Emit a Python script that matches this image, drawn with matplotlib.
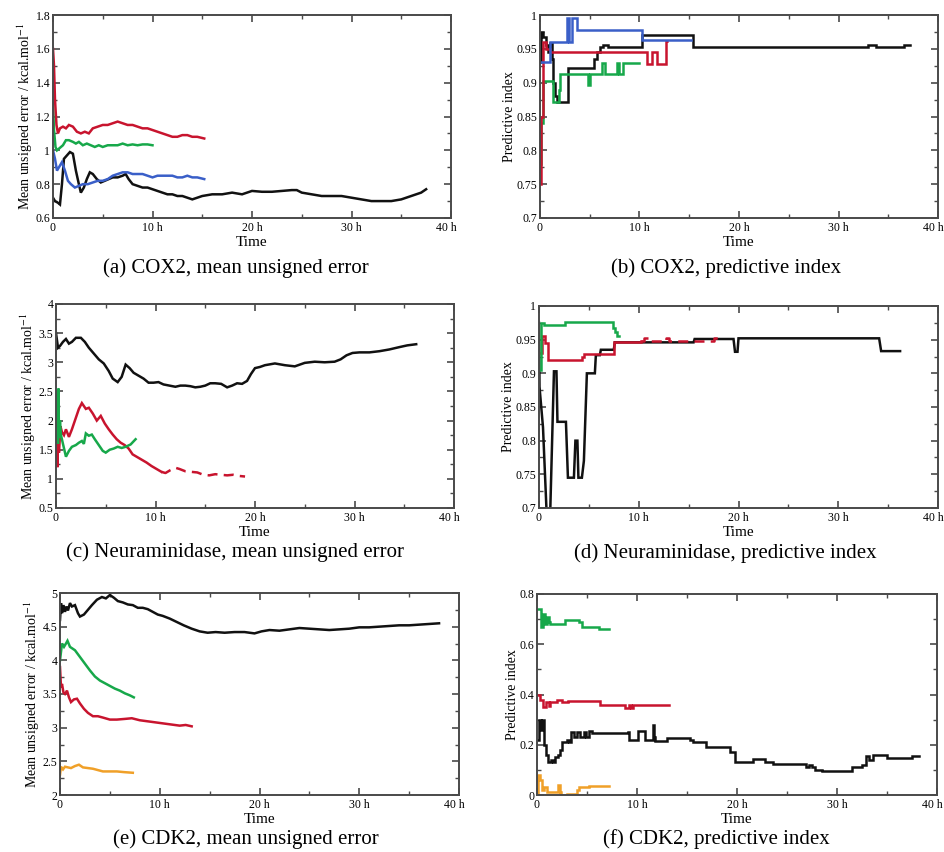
import matplotlib
matplotlib.use("Agg")
import matplotlib.pyplot as plt
from matplotlib.ticker import MultipleLocator, FuncFormatter
from matplotlib.transforms import ScaledTranslation

plt.rcParams["font.family"] = ["Liberation Serif", "DejaVu Serif"]
plt.rcParams["mathtext.fontset"] = "stix"

BLACK = "#111111"
RED = "#c8142e"
GREEN = "#17a84a"
BLUE = "#3a5fc8"
ORANGE = "#f0a028"
FRAME = "#4a4a4a"

# (a) COX2, mean unsigned error
a_red_t = [0, 0.1, 0.2, 0.35, 0.5, 0.7, 1.0, 1.3, 1.6, 2.0, 2.4, 2.8, 3.2, 3.6, 4.0, 4.5, 5.0, 5.5, 6.0, 6.5,
           7.0, 7.5, 8.0, 8.5, 9.0, 9.5, 10.0, 10.5, 11.0, 11.5, 12.0, 12.5, 13.0, 13.5, 14.0, 14.5, 15.2]
a_red = [1.60, 1.50, 1.30, 1.15, 1.10, 1.13, 1.14, 1.13, 1.15, 1.14, 1.11, 1.10, 1.11, 1.10, 1.13, 1.14, 1.15, 1.15, 1.16, 1.17,
         1.16, 1.15, 1.15, 1.14, 1.13, 1.13, 1.12, 1.11, 1.10, 1.09, 1.08, 1.08, 1.09, 1.09, 1.08, 1.08, 1.07]
a_green_t = [0, 0.1, 0.25, 0.4, 0.6, 0.8, 1.0, 1.3, 1.6, 2.0, 2.3, 2.6, 3.0, 3.4, 3.8, 4.2, 4.6, 5.0, 5.5, 6.0,
             6.5, 7.0, 7.5, 8.0, 8.5, 9.0, 9.5, 10.0]
a_green = [1.28, 1.12, 1.02, 1.00, 1.01, 1.02, 1.03, 1.06, 1.06, 1.05, 1.04, 1.05, 1.03, 1.04, 1.03, 1.02, 1.03, 1.02, 1.03, 1.03,
           1.03, 1.04, 1.03, 1.035, 1.03, 1.035, 1.035, 1.03]
a_blue_t = [0, 0.2, 0.4, 0.6, 0.9, 1.2, 1.5, 1.8, 2.2, 2.6, 3.0, 3.5, 4.0, 4.5, 5.0, 5.5, 6.0, 6.5, 7.0, 7.5,
            8.0, 8.5, 9.0, 9.5, 10.0, 10.5, 11.0, 11.5, 12.0, 12.5, 13.0, 13.5, 14.0, 14.5, 15.2]
a_blue = [1.00, 0.95, 0.88, 0.90, 0.93, 0.88, 0.82, 0.80, 0.78, 0.79, 0.80, 0.80, 0.81, 0.82, 0.82, 0.83, 0.85, 0.86, 0.87, 0.87,
          0.86, 0.86, 0.86, 0.85, 0.84, 0.85, 0.85, 0.85, 0.85, 0.84, 0.84, 0.85, 0.84, 0.84, 0.83]
a_black_t = [0, 0.2, 0.5, 0.7, 0.9, 1.1, 1.4, 1.7, 2.0, 2.3, 2.6, 2.8, 3.1, 3.4, 3.7, 4.0, 4.4, 4.8, 5.2, 5.6,
             6.0, 6.5, 7.0, 7.3, 7.6, 8.0, 8.5, 9.0, 9.5, 10.0, 10.5, 11.0, 11.5, 12.0, 12.5, 13.0, 13.5, 14.0, 14.5, 15.0,
             16, 17, 18, 19, 20, 21, 22, 23, 24, 24.5, 25, 26, 27, 28, 29, 30, 31, 32, 33, 34, 35, 36, 37, 37.5]
a_black = [0.72, 0.70, 0.69, 0.68, 0.80, 0.95, 0.97, 0.99, 0.98, 0.88, 0.80, 0.75, 0.78, 0.83, 0.87, 0.86, 0.83, 0.81, 0.82, 0.83,
           0.84, 0.84, 0.85, 0.86, 0.83, 0.80, 0.79, 0.78, 0.78, 0.77, 0.76, 0.75, 0.74, 0.74, 0.73, 0.73, 0.72, 0.71, 0.72, 0.73,
           0.74, 0.74, 0.75, 0.74, 0.76, 0.755, 0.755, 0.76, 0.765, 0.765, 0.75, 0.74, 0.73, 0.73, 0.73, 0.72, 0.71, 0.70, 0.70, 0.70,
           0.71, 0.73, 0.75, 0.77]

# (b) COX2, predictive index (step traces)
b_blue_t = [0.05, 1.0, 2.7, 2.95, 3.2, 3.45, 3.7, 10.3, 15.2]
b_blue = [0.93, 0.96, 0.995, 0.96, 0.995, 0.995, 0.978, 0.963, 0.963]
b_red_t = [0, 0.15, 0.3, 0.6, 1.0, 10.8, 11.3, 11.8, 12.7, 12.75]
b_red = [0.75, 0.85, 0.96, 0.95, 0.945, 0.928, 0.945, 0.928, 0.962, 0.962]
b_green_t = [0, 0.15, 0.3, 1.35, 1.9, 2.05, 4.8, 5.0, 6.25, 6.5, 7.7, 7.9, 8.3, 10.0]
b_green = [0.78, 0.84, 0.903, 0.872, 0.889, 0.913, 0.897, 0.913, 0.929, 0.913, 0.929, 0.913, 0.929, 0.929]
b_black_t = [0, 0.1, 0.3, 0.6, 0.8, 1.0, 1.2, 1.35, 1.5, 1.7, 2.8, 5.4, 5.7, 6.0, 6.3, 6.8, 10.3, 15.4, 33.0, 33.8,
             36.6, 37.2]
b_black = [0.93, 0.975, 0.968, 0.955, 0.945, 0.958, 0.935, 0.90, 0.88, 0.872, 0.922, 0.935, 0.945, 0.952, 0.955, 0.952, 0.97,
           0.953, 0.956, 0.953, 0.955, 0.955]

# (c) Neuraminidase, mean unsigned error
c_black_t = [0, 0.2, 0.4, 0.7, 1.0, 1.3, 1.6, 2.0, 2.5, 2.9, 3.3, 3.8, 4.3, 4.8, 5.3, 5.7, 6.2, 6.6, 7.0, 7.4,
             7.8, 8.3, 8.8, 9.3, 9.8, 10.3, 10.8, 11.4, 12.0, 12.5, 13.0, 13.5, 14.0, 14.5, 15.0, 15.5, 16.0, 16.6, 17.2, 17.7,
             18.2, 18.7, 19.2, 19.6, 20.0, 20.5, 21.0, 22.0, 23.0, 24.0, 25, 26, 27, 28, 28.6, 29.2, 29.8, 30.5, 31.5, 32.5,
             33.5, 34.5, 35.3, 36.2]
c_black = [3.50, 3.25, 3.28, 3.35, 3.40, 3.32, 3.35, 3.42, 3.42, 3.35, 3.25, 3.15, 3.05, 2.98, 2.85, 2.72, 2.66, 2.75, 2.96, 2.90,
           2.82, 2.77, 2.72, 2.65, 2.65, 2.66, 2.62, 2.60, 2.58, 2.60, 2.60, 2.59, 2.57, 2.58, 2.60, 2.64, 2.64, 2.63, 2.57, 2.60,
           2.64, 2.63, 2.68, 2.80, 2.90, 2.92, 2.95, 2.98, 2.95, 2.93, 2.99, 3.01, 3.00, 3.01, 3.05, 3.12, 3.16, 3.17, 3.17, 3.19,
           3.22, 3.26, 3.29, 3.31]
c_red_t = [0, 0.05, 0.1, 0.15, 0.2, 0.3, 0.45, 0.6, 0.8, 1.0, 1.3, 1.6, 2.0, 2.3, 2.6, 3.0, 3.3, 3.7, 4.1, 4.5,
           4.9, 5.3, 5.7, 6.1, 6.5, 6.9, 7.3, 7.7, 8.1, 8.6, 9.1, 9.6, 10.1, 10.6, 11.0, 11.5, 12.0, 12.4, 13.0, 13.6,
           14.2, 14.8, 15.4, 16.0, 16.6, 17.2, 17.8, 18.4, 19.0]
c_red = [2.45, 1.30, 2.00, 1.20, 1.75, 1.45, 1.90, 1.80, 1.75, 1.85, 1.72, 1.85, 2.05, 2.20, 2.30, 2.20, 2.22, 2.12, 2.00, 2.08,
         1.95, 1.85, 1.76, 1.68, 1.62, 1.58, 1.52, 1.42, 1.38, 1.33, 1.28, 1.22, 1.17, 1.12, 1.10, 1.15, 1.19, 1.17, 1.13, 1.12,
         1.11, 1.07, 1.06, 1.08, 1.07, 1.06, 1.07, 1.05, 1.04]
c_red_dashed_after = 10.6
c_green_t = [0, 0.1, 0.2, 0.25, 0.3, 0.4, 0.5, 0.7, 1.0, 1.3, 1.6, 2.0, 2.3, 2.6, 2.8, 3.0, 3.3, 3.6, 3.9, 4.3,
             4.7, 5.0, 5.4, 5.8, 6.2, 6.6, 7.0, 7.5, 8.0]
c_green = [1.62, 2.50, 1.60, 2.55, 1.70, 2.00, 1.75, 1.60, 1.38, 1.48, 1.55, 1.58, 1.62, 1.65, 1.60, 1.78, 1.74, 1.76, 1.68, 1.58,
           1.48, 1.45, 1.50, 1.52, 1.55, 1.53, 1.55, 1.59, 1.68]

# (d) Neuraminidase, predictive index
d_green_t = [0, 0.25, 0.5, 2.6, 7.4, 7.6, 7.8, 8.0]
d_green = [0.905, 0.975, 0.972, 0.976, 0.968, 0.962, 0.956, 0.956]
d_red_t = [0, 0.3, 0.6, 0.9, 4.3, 4.5, 7.5, 10.2, 10.5, 11.0, 12.7, 13.0, 17.5, 17.9, 18.1]
d_red = [0.93, 0.955, 0.945, 0.92, 0.925, 0.929, 0.947, 0.948, 0.953, 0.948, 0.953, 0.948, 0.952, 0.956, 0.956]
d_red_dashed_after = 10.2
d_black_t = [0, 0.05, 0.4, 0.8, 1.1, 1.5, 1.75, 1.85, 2.7, 2.9, 3.5, 3.65, 3.85, 3.95, 4.3, 4.5, 4.8, 5.6, 5.7, 6.1,
             6.2, 7.5, 7.6, 15.5, 15.6, 19.5, 19.65, 19.9, 20.0, 34.1, 34.3, 36.2]
d_black = [0.975, 0.88, 0.82, 0.68, 0.68, 0.903, 0.903, 0.828, 0.828, 0.745, 0.745, 0.80, 0.80, 0.745, 0.745, 0.77, 0.90, 0.90,
           0.927, 0.927, 0.935, 0.935, 0.946, 0.946, 0.951, 0.951, 0.932, 0.932, 0.952, 0.952, 0.933, 0.933]

# (e) CDK2, mean unsigned error
e_black_t = [0, 0.1, 0.2, 0.35, 0.5, 0.65, 0.8, 1.0, 1.2, 1.5, 1.8, 2.0, 2.4, 2.8, 3.2, 3.7, 4.2, 4.6, 5.0, 5.4,
             5.8, 6.3, 6.8, 7.3, 7.8, 8.3, 8.8, 9.3, 9.8, 10.3, 11.0, 11.7, 12.4, 13.2, 14.0, 14.8, 15.6, 16.5, 17.5, 18.5,
             19.5, 20.2, 21, 22, 23, 24, 25, 26, 27, 28, 29, 30, 31, 32, 33, 34, 35, 36, 37, 38]
e_black = [4.60, 4.85, 4.70, 4.82, 4.72, 4.80, 4.74, 4.85, 4.80, 4.82, 4.70, 4.65, 4.68, 4.75, 4.82, 4.90, 4.94, 4.92, 4.97, 4.93,
           4.88, 4.86, 4.83, 4.82, 4.78, 4.78, 4.76, 4.72, 4.68, 4.66, 4.62, 4.57, 4.52, 4.47, 4.43, 4.41, 4.42, 4.41, 4.42, 4.42,
           4.40, 4.43, 4.45, 4.44, 4.46, 4.48, 4.47, 4.46, 4.45, 4.46, 4.47, 4.49, 4.49, 4.50, 4.51, 4.52, 4.52, 4.53, 4.54, 4.55]
e_green_t = [0, 0.2, 0.4, 0.6, 0.75, 1.0, 1.5, 2.0, 2.5, 3.0, 3.5, 4.0, 4.5, 5.0, 5.5, 6.0, 6.5, 7.0, 7.4]
e_green = [4.00, 4.25, 4.20, 4.25, 4.29, 4.20, 4.15, 4.05, 3.95, 3.85, 3.76, 3.70, 3.66, 3.62, 3.58, 3.55, 3.51, 3.48, 3.45]
e_red_t = [0, 0.1, 0.2, 0.35, 0.5, 0.7, 0.9, 1.1, 1.4, 1.7, 2.0, 2.4, 2.8, 3.3, 3.8, 4.3, 5.0, 5.7, 6.5, 7.2,
           8, 9, 10, 11, 12, 12.6, 13.2]
e_red = [3.90, 3.60, 3.65, 3.52, 3.50, 3.55, 3.45, 3.38, 3.42, 3.43, 3.36, 3.28, 3.22, 3.17, 3.17, 3.15, 3.12, 3.12, 3.13, 3.14,
         3.11, 3.09, 3.07, 3.05, 3.03, 3.04, 3.02]
e_orange_t = [0, 0.1, 0.3, 0.5, 0.8, 1.1, 1.5, 1.9, 2.3, 2.8, 3.3, 3.8, 4.3, 5.0, 5.7, 6.4, 7.3]
e_orange = [2.30, 2.42, 2.38, 2.42, 2.41, 2.40, 2.43, 2.45, 2.41, 2.40, 2.39, 2.37, 2.35, 2.35, 2.35, 2.34, 2.33]

# (f) CDK2, predictive index (step traces)
f_green_t = [0.05, 0.1, 0.4, 0.6, 0.8, 1.0, 1.2, 1.3, 2.8, 4.2, 4.5, 6.2, 7.2]
f_green = [0.74, 0.74, 0.67, 0.72, 0.68, 0.71, 0.69, 0.68, 0.695, 0.69, 0.67, 0.66, 0.66]
f_red_t = [0, 0.3, 0.6, 0.9, 1.2, 1.3, 2.0, 2.5, 3.1, 6.3, 8.8, 9.2, 9.4, 9.6, 13.2]
f_red = [0.40, 0.38, 0.35, 0.37, 0.355, 0.37, 0.38, 0.37, 0.375, 0.36, 0.345, 0.36, 0.345, 0.36, 0.36]
f_black_t = [0, 0.2, 0.4, 0.5, 0.7, 0.9, 1.1, 1.4, 1.6, 1.8, 2.1, 2.3, 2.5, 3.0, 3.2, 3.4, 3.7, 4.0, 4.3, 4.7,
             4.9, 5.2, 5.5, 9.1, 9.25, 10.1, 10.8, 11.6, 11.75, 11.85, 13.0, 15.3, 15.6, 16.9, 19.3, 19.8, 21.6, 22.8, 23.6, 26.9,
             27.2, 27.5, 27.8, 28.5, 28.7, 31.5, 32.5, 32.9, 33.2, 33.6, 35.0, 37.5, 38.2]
f_black = [0.22, 0.30, 0.26, 0.30, 0.20, 0.16, 0.13, 0.14, 0.13, 0.15, 0.16, 0.18, 0.21, 0.22, 0.21, 0.25, 0.23, 0.25, 0.23, 0.25,
           0.23, 0.255, 0.245, 0.25, 0.22, 0.255, 0.22, 0.28, 0.23, 0.215, 0.225, 0.22, 0.21, 0.193, 0.17, 0.13, 0.145, 0.13, 0.122, 0.11,
           0.12, 0.11, 0.10, 0.095, 0.095, 0.11, 0.12, 0.155, 0.14, 0.16, 0.148, 0.155, 0.155]
f_orange_t = [0.05, 0.1, 0.3, 0.5, 0.7, 1.0, 2.1, 2.3, 2.4, 3.0, 4.0, 4.2, 5.2, 7.2]
f_orange = [0.0, 0.08, 0.06, 0.02, 0.03, 0.013, 0.04, 0.013, 0.0, 0.005, 0.02, 0.03, 0.037, 0.037]

MUE_LABEL = r"Mean unsigned error / kcal.mol$^{-1}$"
PI_LABEL = "Predictive index"

W, H = 945, 852
fig = plt.figure(figsize=(W / 100, H / 100), dpi=100)


def make_axes(left, right, top, bottom):
    """Axes placed by pixel edges."""
    return fig.add_axes([left / W, 1 - bottom / H, (right - left) / W, (bottom - top) / H])


def style_axes(ax, ylim, ymajor, yminor, ylabel):
    ax.set_xlim(0, 40)
    ax.set_ylim(*ylim)
    ax.xaxis.set_major_locator(MultipleLocator(10))
    ax.xaxis.set_minor_locator(MultipleLocator(5))
    ax.yaxis.set_major_locator(MultipleLocator(ymajor))
    ax.yaxis.set_minor_locator(MultipleLocator(yminor))
    ax.xaxis.set_major_formatter(FuncFormatter(lambda v, p: "0" if v == 0 else f"{v:g} h"))
    ax.yaxis.set_major_formatter(FuncFormatter(lambda v, p: f"{round(v, 3):g}"))
    ax.tick_params(which="both", direction="in", top=True, right=True, color=FRAME,
                   labelsize=8.5)
    ax.tick_params(axis="x", pad=3)
    ax.tick_params(axis="y", pad=2)
    ax.tick_params(which="major", length=5, width=1.2)
    ax.tick_params(which="minor", length=3, width=1.0)
    for sp in ax.spines.values():
        sp.set_color(FRAME)
        sp.set_linewidth(1.4)
    ax.set_xlabel("Time", fontsize=11, labelpad=1)
    ax.set_ylabel(ylabel, fontsize=10, labelpad=0)


def trace(ax, t, v, color, steps=False, dashed_after=None):
    kw = dict(color=color, lw=1.8, solid_joinstyle="miter")
    if steps:
        kw["drawstyle"] = "steps-post"
    if dashed_after is None:
        ax.plot(t, v, **kw)
        return
    cut = max(i for i, x in enumerate(t) if x <= dashed_after)
    ax.plot(t[:cut + 1], v[:cut + 1], **kw)
    ax.plot(t[cut:], v[cut:], ls=(0, (4, 2.5)), **kw)


# (a)
ax = make_axes(53, 451, 15, 218)
style_axes(ax, (0.6, 1.8), 0.2, 0.1, MUE_LABEL)
trace(ax, a_black_t, a_black, BLACK)
trace(ax, a_blue_t, a_blue, BLUE)
trace(ax, a_green_t, a_green, GREEN)
trace(ax, a_red_t, a_red, RED)
fig.text(236 / W, 1 - 268 / H, "(a) COX2, mean unsigned error", ha="center", va="center", fontsize=15)

# (b)
ax = make_axes(540, 938, 15, 218)
style_axes(ax, (0.7, 1.0), 0.05, 0.025, PI_LABEL)
trace(ax, b_black_t, b_black, BLACK, steps=True)
trace(ax, b_green_t, b_green, GREEN, steps=True)
trace(ax, b_red_t, b_red, RED, steps=True)
trace(ax, b_blue_t, b_blue, BLUE, steps=True)
fig.text(726 / W, 1 - 268 / H, "(b) COX2, predictive index", ha="center", va="center", fontsize=15)

# (c)
ax = make_axes(56, 454, 304, 508)
style_axes(ax, (0.5, 4.0), 0.5, 0.25, MUE_LABEL)
trace(ax, c_black_t, c_black, BLACK)
trace(ax, c_red_t, c_red, RED, dashed_after=c_red_dashed_after)
trace(ax, c_green_t, c_green, GREEN)
fig.text(235 / W, 1 - 552 / H, "(c) Neuraminidase, mean unsigned error", ha="center", va="center", fontsize=15)

# (d)
ax = make_axes(539, 938, 306, 508)
style_axes(ax, (0.7, 1.0), 0.05, 0.025, PI_LABEL)
trace(ax, d_black_t, d_black, BLACK)
trace(ax, d_red_t, d_red, RED, steps=True, dashed_after=d_red_dashed_after)
trace(ax, d_green_t, d_green, GREEN, steps=True)
fig.text(725 / W, 1 - 553 / H, "(d) Neuraminidase, predictive index", ha="center", va="center", fontsize=15)

# (e)
ax = make_axes(60, 459, 593, 795)
style_axes(ax, (2.0, 5.0), 0.5, 0.25, MUE_LABEL)
trace(ax, e_black_t, e_black, BLACK)
trace(ax, e_green_t, e_green, GREEN)
trace(ax, e_red_t, e_red, RED)
trace(ax, e_orange_t, e_orange, ORANGE)
fig.text(246 / W, 1 - 839 / H, "(e) CDK2, mean unsigned error", ha="center", va="center", fontsize=15)

# (f)
ax = make_axes(537, 937, 594, 795)
style_axes(ax, (0.0, 0.8), 0.2, 0.1, PI_LABEL)
trace(ax, f_black_t, f_black, BLACK, steps=True)
trace(ax, f_green_t, f_green, GREEN, steps=True)
trace(ax, f_red_t, f_red, RED, steps=True)
trace(ax, f_orange_t, f_orange, ORANGE, steps=True)
fig.text(716 / W, 1 - 839 / H, "(f) CDK2, predictive index", ha="center", va="center", fontsize=15)

# the "40 h" labels sit a little left of their tick so they stay inside the page
fig.canvas.draw()
for a in fig.axes:
    for lab in a.get_xticklabels():
        if lab.get_text() == "40 h":
            lab.set_horizontalalignment("right")
            lab.set_transform(lab.get_transform() + ScaledTranslation(6 / 100, 0, fig.dpi_scale_trans))

fig.savefig("out.png", dpi=100)
